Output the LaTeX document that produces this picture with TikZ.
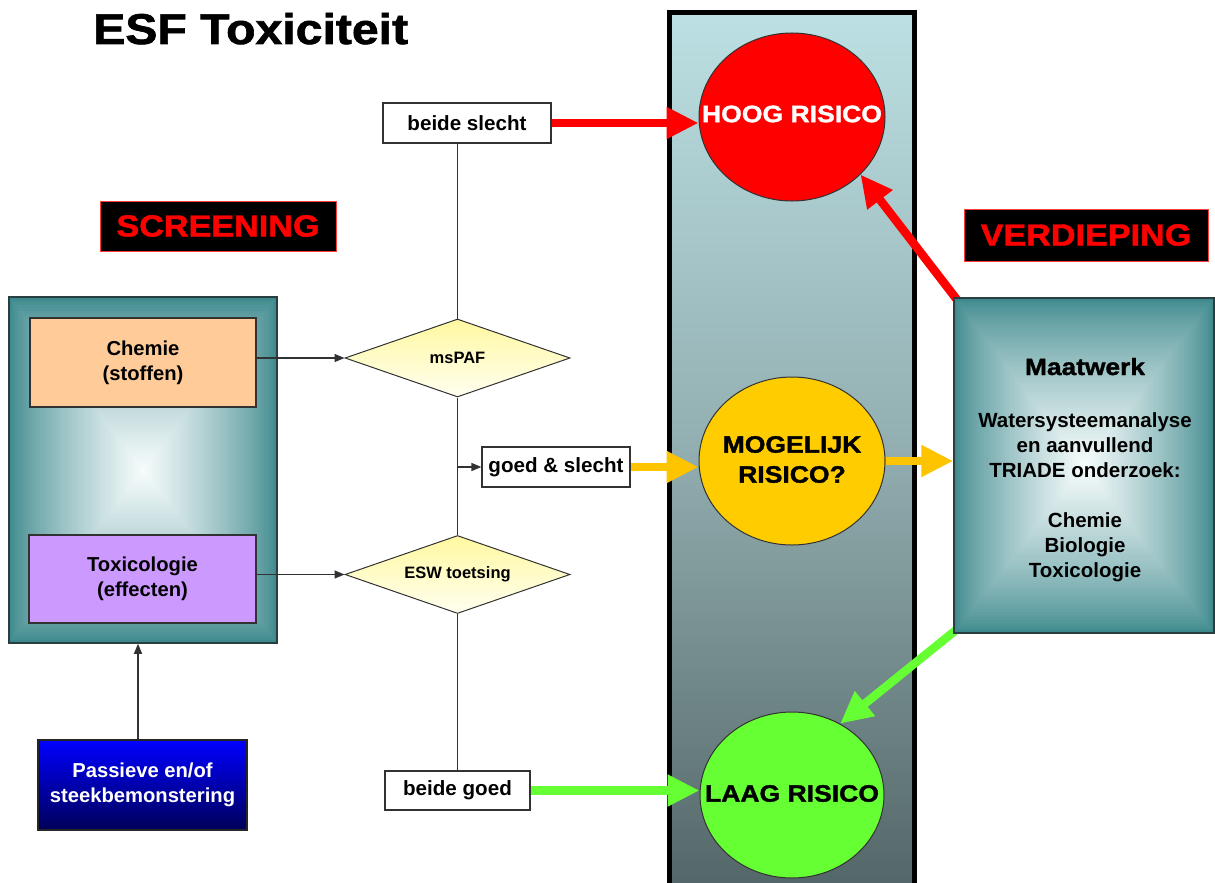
\documentclass[tikz,border=0pt]{standalone}
\usepackage{fontspec}
\setmainfont{Liberation Sans}
\newfontfamily\blk[FakeStretch=1.12,BoldFeatures={FakeBold=1.5}]{Liberation Sans}
\usetikzlibrary{arrows.meta,shapes.geometric,calc}
\pgfdeclarelayer{back}
\pgfdeclarelayer{mid}
\pgfsetlayers{back,mid,main}
\definecolor{tealout}{RGB}{60,136,140}
\definecolor{tealin}{RGB}{246,251,251}
\definecolor{coltop}{RGB}{188,224,227}
\definecolor{colmid}{RGB}{146,174,176}
\definecolor{colbot}{RGB}{84,103,104}
\definecolor{peach}{RGB}{255,204,153}
\definecolor{lilac}{RGB}{204,153,255}
\definecolor{riskred}{RGB}{255,0,0}
\definecolor{riskyel}{RGB}{255,204,0}
\definecolor{arryel}{RGB}{255,196,0}
\definecolor{riskgrn}{RGB}{102,255,51}
\definecolor{lineg}{RGB}{50,50,50}
\definecolor{dmtop}{RGB}{255,248,160}
\definecolor{dmbot}{RGB}{255,255,240}
\definecolor{bluetop}{RGB}{0,0,255}
\definecolor{bluebot}{RGB}{0,0,90}
\definecolor{boxedge}{RGB}{40,62,64}
\definecolor{hdredge}{RGB}{255,60,60}
\pgfdeclareverticalshading{colshade}{100bp}{color(0bp)=(colbot); color(25bp)=(colbot); color(50bp)=(colmid); color(75bp)=(coltop); color(100bp)=(coltop)}
% rectangular ("from centre") gradient built from nested rectangles
\newcommand\rectgrad[4]{%
  \foreach \k in {0,...,63}{%
    \pgfmathsetmacro\tfr{\k/64}%
    \pgfmathsetmacro\pct{100*pow(\k/63,0.75)}%
    \fill[tealin!\pct!tealout]
      ({(#1+#3)/2-(#3-#1)/2*(1-\tfr)},{(#2+#4)/2-(#4-#2)/2*(1-\tfr)})
      rectangle
      ({(#1+#3)/2+(#3-#1)/2*(1-\tfr)},{(#2+#4)/2+(#4-#2)/2*(1-\tfr)});
  }%
}
\begin{document}
\begin{tikzpicture}[x=1pt,y=-1pt,
  box/.style={draw=lineg,line width=1.2pt,inner sep=0pt,align=center,font=\bfseries\fontsize{20.2}{25}\selectfont},
  lab/.style={draw=lineg,line width=1.2pt,fill=white,inner sep=0pt,font=\bfseries\fontsize{20.6}{24}\selectfont},
  dia/.style={diamond,aspect=2.885,minimum width=225pt,minimum height=78pt,inner sep=0pt,draw=lineg,line width=1pt,top color=dmtop,bottom color=dmbot,font=\bfseries\fontsize{16.5}{20}\selectfont},
  riskell/.style={ellipse,draw=lineg,line width=1pt,minimum width=186pt,minimum height=168pt,inner sep=0pt},
  risktxt/.style={inner sep=0pt,align=center,font=\blk\bfseries\fontsize{23.7}{30}\selectfont},
  hdr/.style={fill=black,draw=hdredge,line width=1pt,text=red,inner sep=0pt,font=\blk\bfseries\fontsize{30.5}{34}\selectfont},
  conn/.style={draw=lineg,line width=1.3pt},
  carr/.style={conn,-{Triangle[length=10pt,width=8pt]}},
  thk/.style={line width=8.5pt,-{Triangle[length=32pt,width=30pt]}}
]
\useasboundingbox (0,0) rectangle (1215,883);
\begin{pgfonlayer}{back}
  \fill[white] (0,0) rectangle (1215,883);
  \node[shading=colshade,draw=black,line width=5pt,minimum width=245pt,minimum height=873pt,inner sep=0pt] (column) at (792,449) {};
\end{pgfonlayer}

% title and headers
\node[anchor=base west,inner sep=0pt,font=\blk\bfseries\fontsize{43}{48}\selectfont] (title) at (93,44) {ESF Toxiciteit};
\node[hdr,minimum width=236pt,minimum height=50pt] (scr) at (218,226) {SCREENING};
\node[hdr,minimum width=244pt,minimum height=52pt] (verd) at (1086,235) {VERDIEPING};

% left screening box
\rectgrad{9}{297}{277}{643}
\node[draw=boxedge,line width=1.5pt,minimum width=268pt,minimum height=346pt,inner sep=0pt] (screen) at (143,470) {};
\node[box,fill=peach,minimum width=226pt,minimum height=89pt] (chem) at (143,362.5) {Chemie\\(stoffen)};
\node[box,fill=lilac,minimum width=227pt,minimum height=88pt] (tox) at (142.5,579) {Toxicologie\\(effecten)};
\node[box,draw=black!85,top color=bluetop,bottom color=bluebot,text=white,minimum width=209pt,minimum height=90pt] (pass) at (142.5,785) {Passieve en/of\\steekbemonstering};

% decision diamonds and outcome labels
\node[dia] (ms) at (457.5,358) {msPAF};
\node[dia] (esw) at (457.5,574.5) {ESW toetsing};
\node[lab,minimum width=168pt,minimum height=40pt] (bs) at (467,123) {beide slecht};
\node[lab,minimum width=148pt,minimum height=40pt] (gs) at (556,467) {goed \& slecht};
\node[lab,minimum width=145pt,minimum height=39pt] (bg) at (457.5,790.5) {beide goed};

% risk ellipses
\node[riskell,fill=riskred] (hoog) at (792,117) {};
\node[risktxt,text=white] (hoogt) at (792,114) {HOOG RISICO};
\node[riskell,fill=riskyel] (mog) at (792,461) {};
\node[risktxt] (mogt) at (792,459.5) {MOGELIJK\\RISICO?};
\node[riskell,fill=riskgrn,minimum width=184pt,minimum height=166pt] (laag) at (792,795) {};
\node[risktxt] (laagt) at (792,793.5) {LAAG RISICO};

% Maatwerk box
\rectgrad{954}{298}{1214}{633}
\node[draw=boxedge,line width=1.5pt,minimum width=260pt,minimum height=335pt,inner sep=0pt] (maat) at (1084,465.5) {};
\node[anchor=base,inner sep=0pt,font=\bfseries\fontsize{20.5}{25}\selectfont] (maattxt) at (1085,375)
  {\begin{tabular}[t]{@{}c@{}}{\blk\bfseries\fontsize{23.5}{28}\selectfont Maatwerk}\\[27pt]
   Watersysteemanalyse\\ en aanvullend\\ TRIADE onderzoek:\\ \\ Chemie\\ Biologie\\ Toxicologie\end{tabular}};

% thin connectors
\draw[conn] (bs.south -| ms.north) -- (ms.north);
\draw[conn] (ms.south) -- (esw.north);
\draw[conn] (esw.south) -- (bg.north);
\draw[carr] (gs.west -| ms.south) -- (gs.west);
\draw[carr] (ms.west -| chem.east) -- (ms.west);
\draw[carr] (esw.west -| tox.east) -- (esw.west);
\draw[carr] ([xshift=-4.5pt]pass.north) -- ([xshift=-5pt]screen.south);

% thick coloured arrows
\begin{pgfonlayer}{mid}
\draw[thk,riskred] (bs.east) -- (bs.east -| hoog.west);
\draw[thk,arryel] (gs.east) -- (gs.east -| mog.west);
\draw[thk,arryel] (mog.east) -- (mog.east -| maat.west);
\draw[thk,riskgrn] (bg.east) -- (bg.east -| laag.west);
\draw[thk,riskred] ([shift={(8,8)}]maat.north west) -- (hoog.-40);
\draw[thk,riskgrn] ([shift={(8,-8)}]maat.south west) -- (laag.56);
\end{pgfonlayer}
\end{tikzpicture}
\end{document}
